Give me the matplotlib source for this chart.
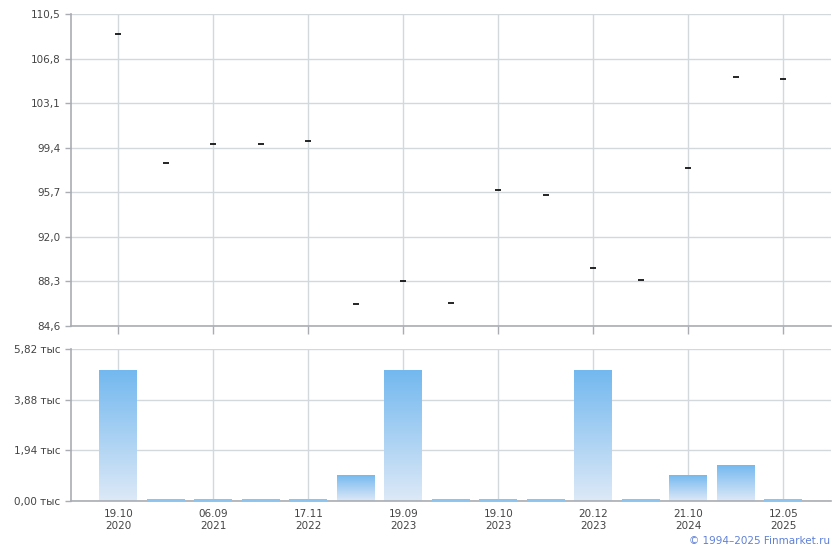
import matplotlib
matplotlib.use('Agg')
import matplotlib.pyplot as plt
import numpy as np
from matplotlib.colors import LinearSegmentedColormap

# values
prices = [108.84, 98.1, 99.7, 99.7, 99.93, 86.4, 88.3, 86.5, 95.87, 95.45,
          89.4, 88.4, 97.7, 105.27, 105.1]
volumes = [5.02, 0.08, 0.06, 0.06, 0.06, 1.0, 5.02, 0.09, 0.06, 0.06,
           5.02, 0.09, 1.0, 1.38, 0.06]
tick_idx = [0, 2, 4, 6, 8, 10, 12, 14]
tick_labels = ['19.10\n2020', '06.09\n2021', '17.11\n2022', '19.09\n2023',
               '19.10\n2023', '20.12\n2023', '21.10\n2024', '12.05\n2025']
price_ticks = [84.6, 88.3, 92.0, 95.7, 99.4, 103.1, 106.8, 110.5]
vol_ticks = [0.0, 1.94, 3.88, 5.82]

grid_c = '#d3d8dc'
spine_c = '#a9adb3'
text_c = '#444444'

fig = plt.figure(figsize=(8.4, 5.5), dpi=100)
ax1 = fig.add_axes([0.0845, 0.4073, 0.9045, 0.5672])
ax2 = fig.add_axes([0.0845, 0.0891, 0.9045, 0.2764])

x = np.arange(len(prices))

for ax in (ax1, ax2):
    ax.set_xlim(-1, len(prices))
    for s in ('top', 'right'):
        ax.spines[s].set_visible(False)
    for s in ('left', 'bottom'):
        ax.spines[s].set_color(spine_c)
        ax.spines[s].set_linewidth(1.2)
    ax.grid(True, color=grid_c, linewidth=1)
    ax.set_axisbelow(True)
    ax.tick_params(axis='y', colors=spine_c, labelcolor=text_c, labelsize=7.5,
                   length=4, width=1)
    ax.set_xticks(tick_idx)

# price panel
ax1.plot(x, prices, linestyle='none', marker='_', markersize=4.5,
         markeredgewidth=1.2, color='black')
ax1.set_ylim(price_ticks[0], price_ticks[-1])
ax1.set_yticks(price_ticks)
ax1.set_yticklabels([f'{v:.1f}'.replace('.', ',') for v in price_ticks])
ax1.tick_params(axis='x', colors=spine_c, labelbottom=False, length=6, width=1)

# volume panel with gradient bars
cmap = LinearSegmentedColormap.from_list('bar', ['#dde9f7', '#72b8ef'])
grad = np.linspace(0, 1, 256).reshape(-1, 1)
ax2.set_ylim(0, vol_ticks[-1])
bars = ax2.bar(x, volumes, width=0.8, color='none', edgecolor='none')
for b in bars:
    h = b.get_height()
    x0 = b.get_x()
    w = b.get_width()
    if h < 0.2:
        b.set_facecolor('#8cc3ef')
        b.set_zorder(3)
        continue
    im = ax2.imshow(grad, extent=[x0, x0 + w, 0, h], origin='lower',
                    cmap=cmap, aspect='auto', zorder=2, vmin=0, vmax=1)
    im.set_clip_path(b)
ax2.set_xlim(-1, len(prices))
ax2.set_yticks(vol_ticks)
ax2.set_yticklabels([f'{v:.2f}'.replace('.', ',') + ' тыс' for v in vol_ticks])
ax2.set_xticklabels(tick_labels)
ax2.tick_params(axis='x', length=0, labelsize=7.5, labelcolor=text_c, pad=6)

fig.text(0.988, 0.008, '© 1994–2025 Finmarket.ru', ha='right', va='bottom',
         fontsize=7.5, color='#5f80d8')

fig.savefig('out.png', dpi=100)
